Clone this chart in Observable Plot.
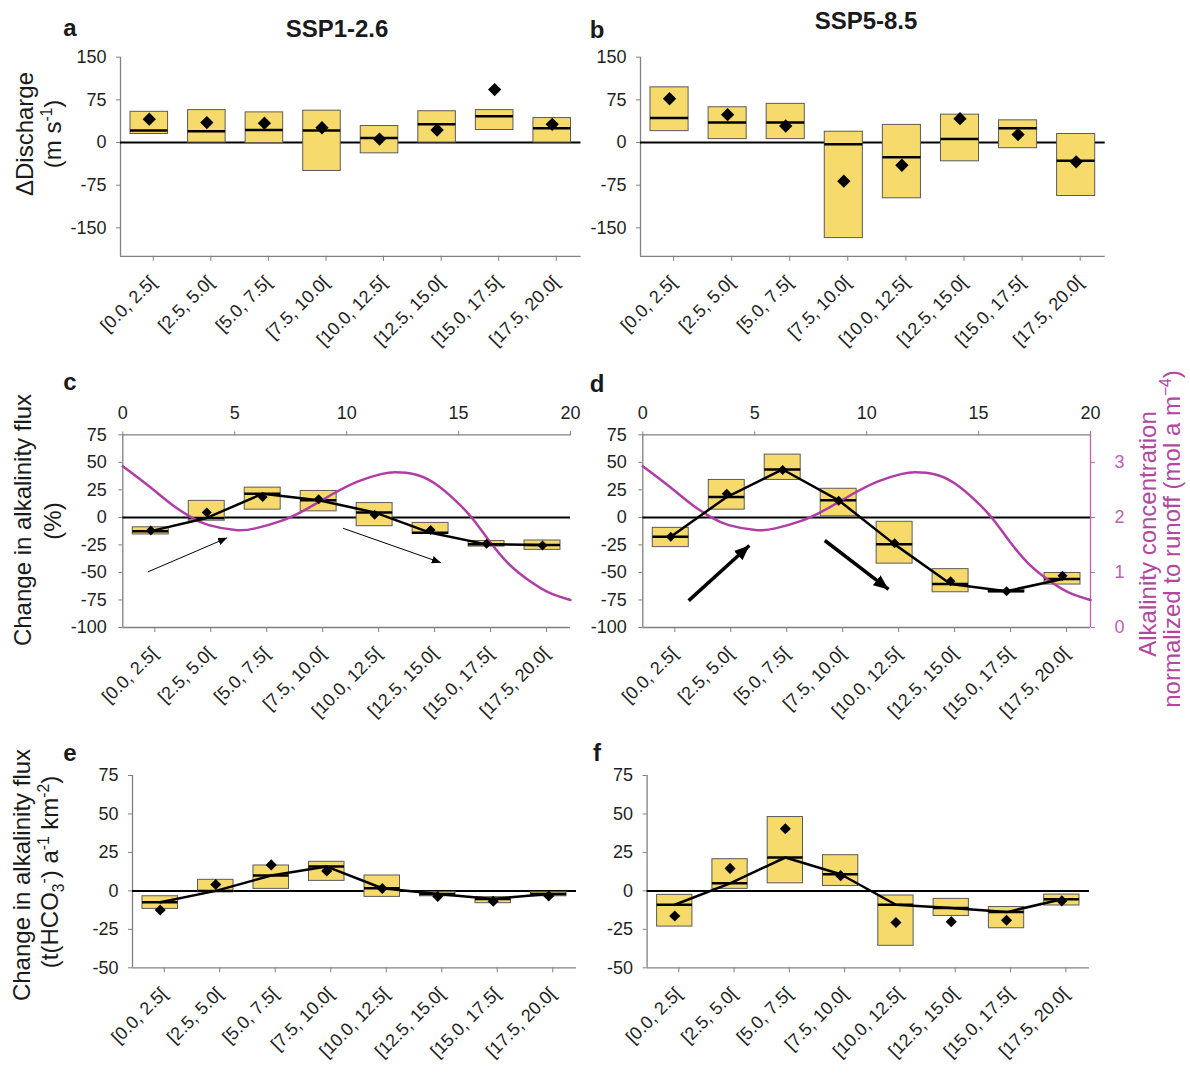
<!DOCTYPE html>
<html>
<head>
<meta charset="utf-8">
<script src="https://cdn.jsdelivr.net/npm/d3@7"></script>
<script src="https://cdn.jsdelivr.net/npm/@observablehq/plot@0.6"></script>
<style>
  html, body { margin: 0; padding: 0; background: #fff; }
  #fig { position: relative; width: 1190px; height: 1073px; background: #fff; font-family: "Liberation Sans", Arial, sans-serif; color: #1a1a1a; overflow: hidden; }
  .panel { position: absolute; }
  .t { position: absolute; transform: translate(-50%, -50%); white-space: nowrap; line-height: 1; }
  .v { position: absolute; transform: translate(-50%, -50%) rotate(-90deg); white-space: nowrap; line-height: 1; font-size: 24px; }
  .b { font-weight: bold; font-size: 24px; }
  sup, sub { font-size: 65%; line-height: 0; }
</style>
</head>
<body>
<div id="fig">
  <div class="t b" style="left:70px;top:28px">a</div>
  <div class="t b" style="left:337px;top:29px">SSP1-2.6</div>
  <div class="t b" style="left:597px;top:30px">b</div>
  <div class="t b" style="left:866px;top:21px">SSP5-8.5</div>
  <div class="t b" style="left:70px;top:382px">c</div>
  <div class="t b" style="left:597px;top:384px">d</div>
  <div class="t b" style="left:70px;top:753px">e</div>
  <div class="t b" style="left:597px;top:753px">f</div>

  <div class="v" style="left:25px;top:134px">ΔDischarge</div>
  <div class="v" style="left:53px;top:134px">(m s<sup>-1</sup>)</div>
  <div class="v" style="left:23px;top:520px">Change in alkalinity flux</div>
  <div class="v" style="left:53px;top:521px">(%)</div>
  <div class="v" style="left:22px;top:875px">Change in alkalinity flux</div>
  <div class="v" style="left:50px;top:872px">(t(HCO<sub>3</sub><sup>-</sup>) a<sup>-1</sup> km<sup>-2</sup>)</div>
  <div class="v" style="left:1148px;top:534px;color:#B1479F">Alkalinity concentration</div>
  <div class="v" style="left:1172px;top:539px;color:#B1479F">normalized to runoff (mol a m<sup>−4</sup>)</div>
</div>
<script>
// ---------- data ----------
const categories = ["[0.0, 2.5[", "[2.5, 5.0[", "[5.0, 7.5[", "[7.5, 10.0[", "[10.0, 12.5[", "[12.5, 15.0[", "[15.0, 17.5[", "[17.5, 20.0["];
const binStart = [0, 2.5, 5, 7.5, 10, 12.5, 15, 17.5];
const binEnd   = [2.5, 5, 7.5, 10, 12.5, 15, 17.5, 20];

// a: SSP1-2.6 ΔDischarge
const aLow    = [15, 0, -1, -50, -19, 0, 22, 0];
const aHigh   = [54, 57, 53, 56, 29, 55, 57, 43];
const aMedian = [21, 20, 22, 21, 8, 32, 46, 25];
const aMean   = [41, 35, 34, 26, 6, 22, 93, 32];
// b: SSP5-8.5 ΔDischarge
const bLow    = [20, 6, 6, -168, -98, -33, -10, -94];
const bHigh   = [97, 62, 68, 19, 31, 49, 39, 15];
const bMedian = [43, 35, 35, -3, -26, 6, 25, -32];
const bMean   = [77, 49, 29, -68, -40, 42, 14, -34];
// c: SSP1-2.6 change in alkalinity flux (%)
const cLow    = [-15.5, -3, 7, 5.5, -8, -15, -26.5, -29.5];
const cHigh   = [-9, 15, 27, 24, 13, -5, -21.5, -21];
const cMedian = [-12.5, -0.5, 21.5, 15.5, 4.5, -14, -24.5, -25];
const cMean   = [-12, 4.5, 18.5, 16.5, 2.5, -11.5, -24, -25.5];
// d: SSP5-8.5 change in alkalinity flux (%)
const dLow    = [-27, 7, 34, 1, -42, -68, -68, -61];
const dHigh   = [-9.5, 34, 57, 26, -4, -47, -66, -50.5];
const dMedian = [-17.5, 18.5, 43.5, 15.5, -24.5, -60.5, -67, -56];
const dMean   = [-17.5, 21.5, 43, 15, -23.5, -58, -67, -53];
// e: SSP1-2.6 change in alkalinity flux (t a-1 km-2)
const eLow    = [-11.7, -0.7, 1.3, 6.5, -3.9, -3.5, -8, -3.5];
const eHigh   = [-3.5, 7.2, 16.5, 18.9, 10, -0.7, -4.1, -0.9];
const eMedian = [-7.4, 0, 10, 15.8, 1.7, -2, -5.2, -2];
const eMean   = [-12.4, 4.1, 16.9, 13, 1.5, -3.7, -6.7, -3.3];
// f: SSP5-8.5 change in alkalinity flux (t a-1 km-2)
const fLow    = [-23.2, 1.3, 4.9, 3.2, -35.7, -16.3, -24.3, -9.5];
const fHigh   = [-2.6, 20.6, 48, 23.2, -3, -5.2, -10.5, -2.4];
const fMedian = [-9, 4.9, 21.7, 10.8, -9, -11.2, -13.8, -5.4];
const fMean   = [-16.3, 14.6, 40.4, 9.9, -20.6, -20, -19.1, -6.5];

// alkalinity concentration normalized to runoff
const curveX    = [0, 1.16, 2.2, 3.1, 3.84, 5.03, 5.92, 7.11, 8.16, 9.35, 10.54, 11.58, 12.17, 13.07, 13.96, 14.85, 15.6, 16.34, 17.23, 18.13, 19.02, 20];
const curveConc = [2.93, 2.57, 2.23, 1.99, 1.86, 1.77, 1.80, 1.94, 2.14, 2.42, 2.66, 2.79, 2.82, 2.78, 2.61, 2.31, 1.99, 1.59, 1.16, 0.86, 0.64, 0.50];
const concTicks = [0, 1, 2, 3];

// annotation arrows (top-axis x units, left-axis y units)
const arrowCx1 = [1.12, 9.84], arrowCy1 = [-49.5, -9.9], arrowCx2 = [4.66, 14.21], arrowCy2 = [-18.6, -41.1];
const arrowDx1 = [2.05, 8.13], arrowDy1 = [-75.6, -21], arrowDx2 = [4.76, 10.98], arrowDy2 = [-25.5, -65.4];

const xDomain = [0, 20];
const topTicks = [0, 5, 10, 15, 20];
const dischargeDomain = [-200, 150], dischargeTicks = [-150, -75, 0, 75, 150];
const pctDomain = [-100, 75], pctTicks = [-100, -75, -50, -25, 0, 25, 50, 75];
const absDomain = [-50, 75], absTicks = [-50, -25, 0, 25, 50, 75];

// ---------- style ----------
const axisGray = "#808080", textCol = "#1f1f1f", boxFill = "#F6DB6C", boxStroke = "#5a5a5a";
const magenta = "#B03DA6", magentaLight = "#C060B5";
const concToY = c => c * 50 - 100;   // right axis (0..3.5) onto left axis (-100..75)
const yToConc = y => (y + 100) / 50;

// filled triangular arrow head (size in px)
function filledHead(size) {
  return (color, context) =>
    d3.create("svg:marker")
      .attr("viewBox", "-10 -5 10 10")
      .attr("markerUnits", "userSpaceOnUse")
      .attr("markerWidth", size)
      .attr("markerHeight", size)
      .attr("refX", 0).attr("refY", 0)
      .attr("orient", "auto")
      .attr("fill", color)
      .attr("stroke", "none")
      .call(m => m.append("path").attr("d", "M-10,-4.2L0,0L-10,4.2Z"))
      .node();
}

function makePanel(o) {
  const rows = categories.map((cat, i) => ({
    cat, x1: binStart[i], x2: binEnd[i], mid: (binStart[i] + binEnd[i]) / 2,
    low: o.low[i], high: o.high[i], median: o.median[i], mean: o.mean[i]
  }));
  const labelOf = new Map(rows.map(d => [d.mid, d.cat]));
  const marks = [
    Plot.ruleX([xDomain[0]], {stroke: axisGray, strokeWidth: 1.3}),
    Plot.ruleY([o.yDomain[0]], {stroke: axisGray, strokeWidth: 1.3}),
    Plot.axisY({ticks: o.yTicks, tickFormat: d => String(d), tickSize: 4, tickPadding: o.ytp, stroke: axisGray, fill: textCol, label: null, fontSize: 18}),
    Plot.axisX({anchor: "bottom", ticks: rows.map(d => d.mid), tickFormat: d => labelOf.get(d), tickRotate: -45, tickSize: 5, tickPadding: 18, dx: 4, stroke: axisGray, fill: textCol, label: null, fontSize: 18}),
    Plot.ruleY([0], {stroke: "black", strokeWidth: 2}),
    Plot.rect(rows, {x1: "x1", x2: "x2", y1: "low", y2: "high", fill: boxFill, stroke: boxStroke, strokeWidth: 1, insetLeft: 10, insetRight: 10}),
    Plot.ruleY(rows, {y: "median", x1: "x1", x2: "x2", insetLeft: 10, insetRight: 10, stroke: "black", strokeWidth: 2.5})
  ];
  if (o.top) {
    marks.push(Plot.ruleY([o.yDomain[1]], {stroke: axisGray, strokeWidth: 1.3}));
    marks.push(Plot.axisX({anchor: "top", ticks: topTicks, tickFormat: d => String(d), tickSize: 4, tickPadding: 12, stroke: axisGray, fill: textCol, label: null, fontSize: 18}));
  }
  if (o.right) {
    marks.push(Plot.ruleX([xDomain[1]], {stroke: magentaLight, strokeWidth: 1.3}));
    marks.push(Plot.axisY({anchor: "right", ticks: concTicks.map(concToY), tickFormat: d => String(yToConc(d)), tickSize: 4, tickPadding: 20, stroke: magentaLight, fill: magentaLight, label: null, fontSize: 18}));
  }
  if (o.curve) {
    const pts = curveX.map((x, i) => ({x, y: concToY(curveConc[i])}));
    marks.push(Plot.line(pts, {x: "x", y: "y", stroke: magenta, strokeWidth: 2.5, curve: "natural"}));
  }
  if (o.connect) {
    marks.push(Plot.line(rows, {x: "mid", y: "median", stroke: "black", strokeWidth: 2.5}));
  }
  marks.push(Plot.dot(rows, {x: "mid", y: "mean", symbol: "diamond2", r: o.r, fill: "black", stroke: "none"}));
  if (o.arrows) {
    const a = o.arrows;
    const ar = a.x1.map((v, i) => ({x1: v, y1: a.y1[i], x2: a.x2[i], y2: a.y2[i]}));
    marks.push(Plot.link(ar, {x1: "x1", y1: "y1", x2: "x2", y2: "y2", stroke: "black", strokeWidth: a.w, markerEnd: filledHead(a.head)}));
  }
  const svg = Plot.plot({
    width: o.w, height: o.h,
    marginLeft: o.ml, marginRight: o.mr, marginTop: o.mt, marginBottom: o.mb,
    x: {type: "linear", domain: xDomain},
    y: {type: "linear", domain: o.yDomain},
    style: {background: "transparent", fontFamily: '"Liberation Sans", Arial, sans-serif', fontSize: "18px", overflow: "visible"},
    marks
  });
  svg.classList.add("panel");
  svg.style.left = o.left + "px";
  svg.style.top = o.topPx + "px";
  document.getElementById("fig").appendChild(svg);
}

makePanel({low: aLow, high: aHigh, median: aMedian, mean: aMean, yDomain: dischargeDomain, yTicks: dischargeTicks, ytp: 10, r: 6,
  left: 0, topPx: 0, w: 595, h: 350, ml: 120, mr: 14.5, mt: 56.7, mb: 94.2});
makePanel({low: bLow, high: bHigh, median: bMedian, mean: bMean, yDomain: dischargeDomain, yTicks: dischargeTicks, ytp: 10, r: 6,
  left: 595, topPx: 0, w: 595, h: 350, ml: 45, mr: 85.3, mt: 56.7, mb: 94.2});
makePanel({low: cLow, high: cHigh, median: cMedian, mean: cMean, yDomain: pctDomain, yTicks: pctTicks, ytp: 12, r: 4.5, connect: true, top: true, curve: true,
  arrows: {x1: arrowCx1, y1: arrowCy1, x2: arrowCx2, y2: arrowCy2, w: 1, head: 9},
  left: 0, topPx: 360, w: 595, h: 355, ml: 122.3, mr: 25, mt: 74.3, mb: 88});
makePanel({low: dLow, high: dHigh, median: dMedian, mean: dMean, yDomain: pctDomain, yTicks: pctTicks, ytp: 12, r: 4.5, connect: true, top: true, curve: true, right: true,
  arrows: {x1: arrowDx1, y1: arrowDy1, x2: arrowDx2, y2: arrowDy2, w: 3.5, head: 15},
  left: 595, topPx: 360, w: 595, h: 355, ml: 47.3, mr: 100, mt: 74.3, mb: 88});
makePanel({low: eLow, high: eHigh, median: eMedian, mean: eMean, yDomain: absDomain, yTicks: absTicks, ytp: 10, r: 5, connect: true,
  left: 0, topPx: 720, w: 595, h: 353, ml: 132, mr: 19, mt: 55, mb: 105.7});
makePanel({low: fLow, high: fHigh, median: fMedian, mean: fMean, yDomain: absDomain, yTicks: absTicks, ytp: 10, r: 5, connect: true,
  left: 595, topPx: 720, w: 595, h: 353, ml: 51.6, mr: 101, mt: 55, mb: 105.7});
</script>
</body>
</html>
